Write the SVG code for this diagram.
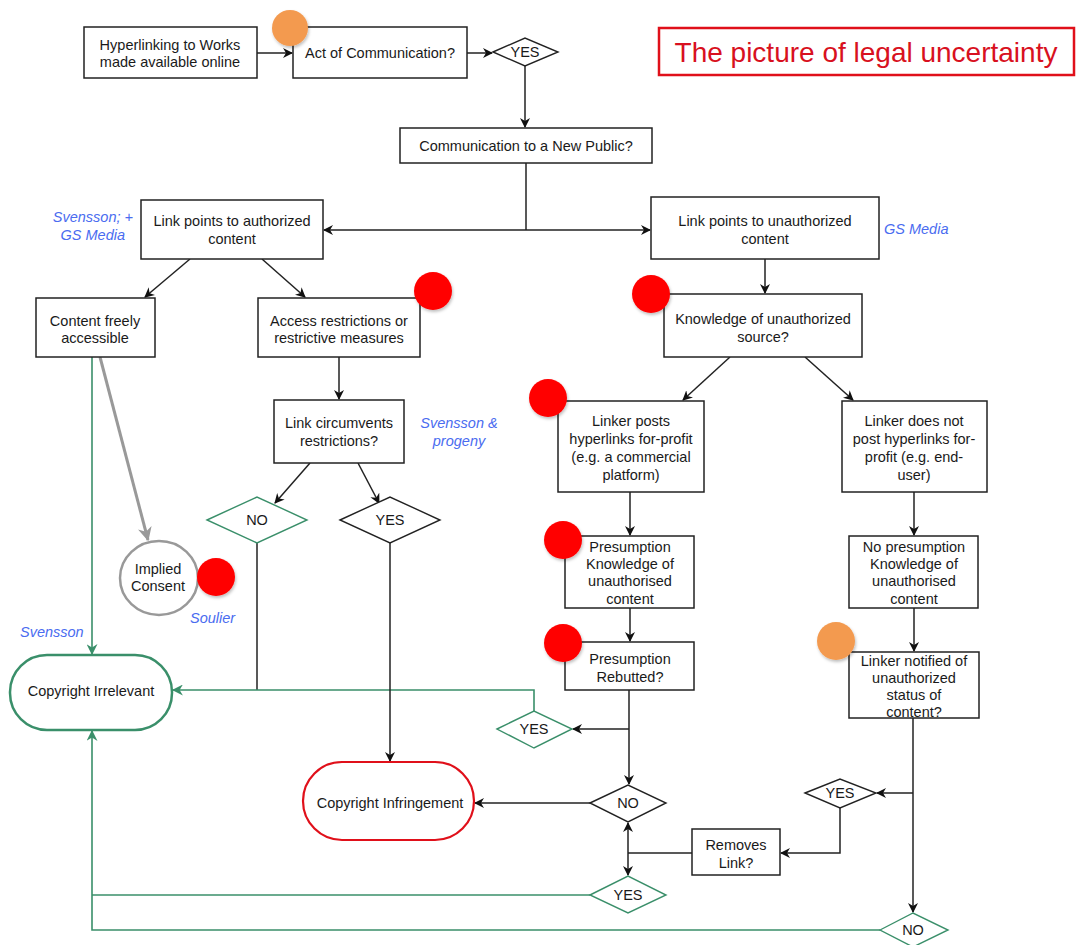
<svg xmlns="http://www.w3.org/2000/svg" width="1079" height="945" viewBox="0 0 1079 945">
<style>
.box{fill:#fff;stroke:#222;stroke-width:1.5}
.dia{fill:#fff;stroke:#222;stroke-width:1.4}
.gdia{fill:#fff;stroke:#3a8f6a;stroke-width:1.4}
.t{font-family:"Liberation Sans",Arial,sans-serif;font-size:14.5px;fill:#1a1a1a;text-anchor:middle}
.ref{font-family:"Liberation Sans",Arial,sans-serif;font-size:14.5px;font-style:italic;fill:#4a6cf0}
.c{fill:none;stroke:#222;stroke-width:1.5}
.g{fill:none;stroke:#3a8f6a;stroke-width:1.6}
.red{fill:#ff0000;filter:url(#sh)}
.org{fill:#f39a4f;filter:url(#sh)}
</style>
<defs>
<marker id="a" viewBox="0 0 10 10" refX="9" refY="5" markerWidth="10" markerHeight="10" markerUnits="userSpaceOnUse" orient="auto"><path d="M0,0 L10,5 L0,10 L3,5 z" fill="#111"/></marker>
<marker id="ag" viewBox="0 0 10 10" refX="9" refY="5" markerWidth="11" markerHeight="11" markerUnits="userSpaceOnUse" orient="auto"><path d="M0,0 L10,5 L0,10 L3,5 z" fill="#3a8f6a"/></marker>
<marker id="ay" viewBox="0 0 10 10" refX="9" refY="5" markerWidth="14" markerHeight="14" markerUnits="userSpaceOnUse" orient="auto"><path d="M0,0 L10,5 L0,10 L3,5 z" fill="#999"/></marker>
<filter id="sh" x="-30%" y="-30%" width="160%" height="160%"><feDropShadow dx="1" dy="2" stdDeviation="1.5" flood-color="#000" flood-opacity="0.25"/></filter>
</defs>
<rect width="1079" height="945" fill="#fff"/>

<g id="connectors">
<path class="c" d="M257,53 H292" marker-end="url(#a)"/>
<path class="c" d="M467,53 H492" marker-end="url(#a)"/>
<path class="c" d="M525,66 V127" marker-end="url(#a)"/>
<path class="c" d="M526,163 V230"/>
<path class="c" d="M526,230 H324" marker-end="url(#a)"/>
<path class="c" d="M526,230 H650" marker-end="url(#a)"/>
<path class="c" d="M190,259 L145,297" marker-end="url(#a)"/>
<path class="c" d="M262,259 L305,297" marker-end="url(#a)"/>
<path class="c" d="M339,357 V399" marker-end="url(#a)"/>
<path class="c" d="M310,463 L275,503" marker-end="url(#a)"/>
<path class="c" d="M358,463 L379,503" marker-end="url(#a)"/>
<path class="c" d="M257,543 V690"/>
<path class="g" d="M534,711 V690 H173" marker-end="url(#ag)"/>
<path class="c" d="M390,543 V761" marker-end="url(#a)"/>
<path d="M100,357 L148,540" fill="none" stroke="#999" stroke-width="3" marker-end="url(#ay)"/>
<path class="g" d="M92,357 V654" marker-end="url(#ag)"/>
<path class="c" d="M765,259 V293" marker-end="url(#a)"/>
<path class="c" d="M730,357 L683,400" marker-end="url(#a)"/>
<path class="c" d="M805,357 L853,400" marker-end="url(#a)"/>
<path class="c" d="M630,492 V535" marker-end="url(#a)"/>
<path class="c" d="M914,492 V535" marker-end="url(#a)"/>
<path class="c" d="M630,608 V641" marker-end="url(#a)"/>
<path class="c" d="M914,608 V651" marker-end="url(#a)"/>
<path class="c" d="M629,690 V784" marker-end="url(#a)"/>
<path class="c" d="M629,729 H573" marker-end="url(#a)"/>
<path class="c" d="M590,803 H475" marker-end="url(#a)"/>
<path class="c" d="M692,853 H628"/>
<path class="c" d="M628,853 V823" marker-end="url(#a)"/>
<path class="c" d="M628,853 V875" marker-end="url(#a)"/>
<path class="c" d="M913,718 V912" marker-end="url(#a)"/>
<path class="c" d="M913,793 H877" marker-end="url(#a)"/>
<path class="c" d="M840,808 V853 H781" marker-end="url(#a)"/>
<path class="g" d="M590,895 H92"/>
<path class="g" d="M880,930 H92 V731" marker-end="url(#ag)"/>
</g>

<g id="title">
<rect x="659" y="28" width="415" height="47" fill="#fff" stroke="#e0101a" stroke-width="2.5"/>
<text x="866" y="62" font-family="Liberation Sans,Arial,sans-serif" font-size="28" fill="#d81020" text-anchor="middle">The picture of legal uncertainty</text>
</g>

<g id="hyper"><rect class="box" x="84" y="27" width="173" height="51"/>
<text class="t" x="170" y="50">Hyperlinking to Works</text><text class="t" x="170" y="67">made available online</text></g>

<g id="act"><rect class="box" x="293" y="27" width="174" height="51"/>
<text class="t" x="380" y="58">Act of Communication?</text>
<circle class="org" cx="290" cy="28" r="18"/></g>

<g id="yes1"><polygon class="dia" points="493,52 525,38 558,52 525,66"/><text class="t" x="525" y="57">YES</text></g>

<g id="newpublic"><rect class="box" x="400" y="128" width="252" height="35"/>
<text class="t" x="526" y="151">Communication to a New Public?</text></g>

<g id="authorized"><rect class="box" x="141" y="200" width="182" height="59"/>
<text class="t" x="232" y="226">Link points to authorized</text><text class="t" x="232" y="244">content</text>
<text class="ref" x="133" y="222" text-anchor="end">Svensson;  +</text>
<text class="ref" x="125" y="240" text-anchor="end">GS Media</text></g>

<g id="unauthorized"><rect class="box" x="651" y="197" width="228" height="62"/>
<text class="t" x="765" y="226">Link points to unauthorized</text><text class="t" x="765" y="244">content</text>
<text class="ref" x="884" y="234">GS Media</text></g>

<g id="free"><rect class="box" x="36" y="298" width="119" height="59"/>
<text class="t" x="95" y="326">Content freely</text><text class="t" x="95" y="343">accessible</text></g>

<g id="access"><rect class="box" x="258" y="298" width="162" height="59"/>
<text class="t" x="339" y="326">Access restrictions or</text><text class="t" x="339" y="343">restrictive measures</text>
<circle class="red" cx="433" cy="291" r="19"/></g>

<g id="circumvents"><rect class="box" x="274" y="400" width="130" height="63"/>
<text class="t" x="339" y="428">Link circumvents</text><text class="t" x="339" y="446">restrictions?</text>
<text class="ref" x="459" y="428" text-anchor="middle">Svensson &amp;</text>
<text class="ref" x="459" y="446" text-anchor="middle">progeny</text></g>

<g id="no1"><polygon class="gdia" points="207,520 257,497 307,520 257,543"/><text class="t" x="257" y="525">NO</text></g>
<g id="yes2"><polygon class="dia" points="340,520 390,497 440,520 390,543"/><text class="t" x="390" y="525">YES</text></g>

<g id="implied"><ellipse cx="159" cy="578" rx="39" ry="37" fill="#fff" stroke="#999" stroke-width="2.5"/>
<text class="t" x="158" y="574">Implied</text><text class="t" x="158" y="591">Consent</text>
<circle class="red" cx="216" cy="577" r="19"/>
<text class="ref" x="190" y="623">Soulier</text></g>

<g id="irrelevant"><rect x="10" y="655" width="162" height="75" rx="37" fill="#fff" stroke="#3a8f6a" stroke-width="2.5"/>
<text class="t" x="91" y="696">Copyright Irrelevant</text>
<text class="ref" x="20" y="637">Svensson</text></g>

<g id="infringement"><rect x="303" y="762" width="171" height="78" rx="39" fill="#fff" stroke="#e0101a" stroke-width="2.2"/>
<text class="t" x="390" y="808">Copyright Infringement</text></g>

<g id="knowledge"><rect class="box" x="664" y="294" width="198" height="63"/>
<text class="t" x="763" y="324">Knowledge of unauthorized</text><text class="t" x="763" y="342">source?</text>
<circle class="red" cx="651" cy="294" r="19"/></g>

<g id="forprofit"><rect class="box" x="558" y="401" width="146" height="91"/>
<text class="t" x="631" y="426">Linker posts</text><text class="t" x="631" y="444">hyperlinks for-profit</text>
<text class="t" x="631" y="462">(e.g. a commercial</text><text class="t" x="631" y="480">platform)</text>
<circle class="red" cx="548" cy="398" r="19"/></g>

<g id="notprofit"><rect class="box" x="842" y="401" width="145" height="91"/>
<text class="t" x="914" y="426">Linker does not</text><text class="t" x="914" y="444">post hyperlinks for-</text>
<text class="t" x="914" y="462">profit (e.g. end-</text><text class="t" x="914" y="480">user)</text></g>

<g id="presumption"><rect class="box" x="565" y="536" width="129" height="72"/>
<text class="t" x="630" y="552">Presumption</text><text class="t" x="630" y="569">Knowledge of</text>
<text class="t" x="630" y="586">unauthorised</text><text class="t" x="630" y="604">content</text>
<circle class="red" cx="563" cy="540" r="19"/></g>

<g id="nopresumption"><rect class="box" x="849" y="536" width="129" height="72"/>
<text class="t" x="914" y="552">No presumption</text><text class="t" x="914" y="569">Knowledge of</text>
<text class="t" x="914" y="586">unauthorised</text><text class="t" x="914" y="604">content</text></g>

<g id="rebutted"><rect class="box" x="565" y="642" width="129" height="48"/>
<text class="t" x="630" y="664">Presumption</text><text class="t" x="630" y="682">Rebutted?</text>
<circle class="red" cx="563" cy="643" r="19"/></g>

<g id="notified"><rect class="box" x="849" y="652" width="130" height="66"/>
<text class="t" x="914" y="666">Linker notified of</text><text class="t" x="914" y="683">unauthorized</text>
<text class="t" x="914" y="700">status of</text><text class="t" x="914" y="717">content?</text>
<circle class="org" cx="836" cy="641" r="19"/></g>

<g id="yes3"><polygon class="gdia" points="497,729 534,711 572,729 534,748"/><text class="t" x="534" y="734">YES</text></g>
<g id="no2"><polygon class="dia" points="590,803 628,785 666,803 628,822"/><text class="t" x="628" y="808">NO</text></g>
<g id="removes"><rect class="box" x="692" y="829" width="88" height="46"/>
<text class="t" x="736" y="850">Removes</text><text class="t" x="736" y="868">Link?</text></g>
<g id="yes4"><polygon class="dia" points="805,793 840,779 876,793 840,808"/><text class="t" x="840" y="798">YES</text></g>
<g id="yes5"><polygon class="gdia" points="590,895 628,876 666,895 628,913"/><text class="t" x="628" y="900">YES</text></g>
<g id="no3"><polygon class="gdia" points="880,930 913,913 948,930 913,947"/><text class="t" x="913" y="935">NO</text></g>
</svg>
